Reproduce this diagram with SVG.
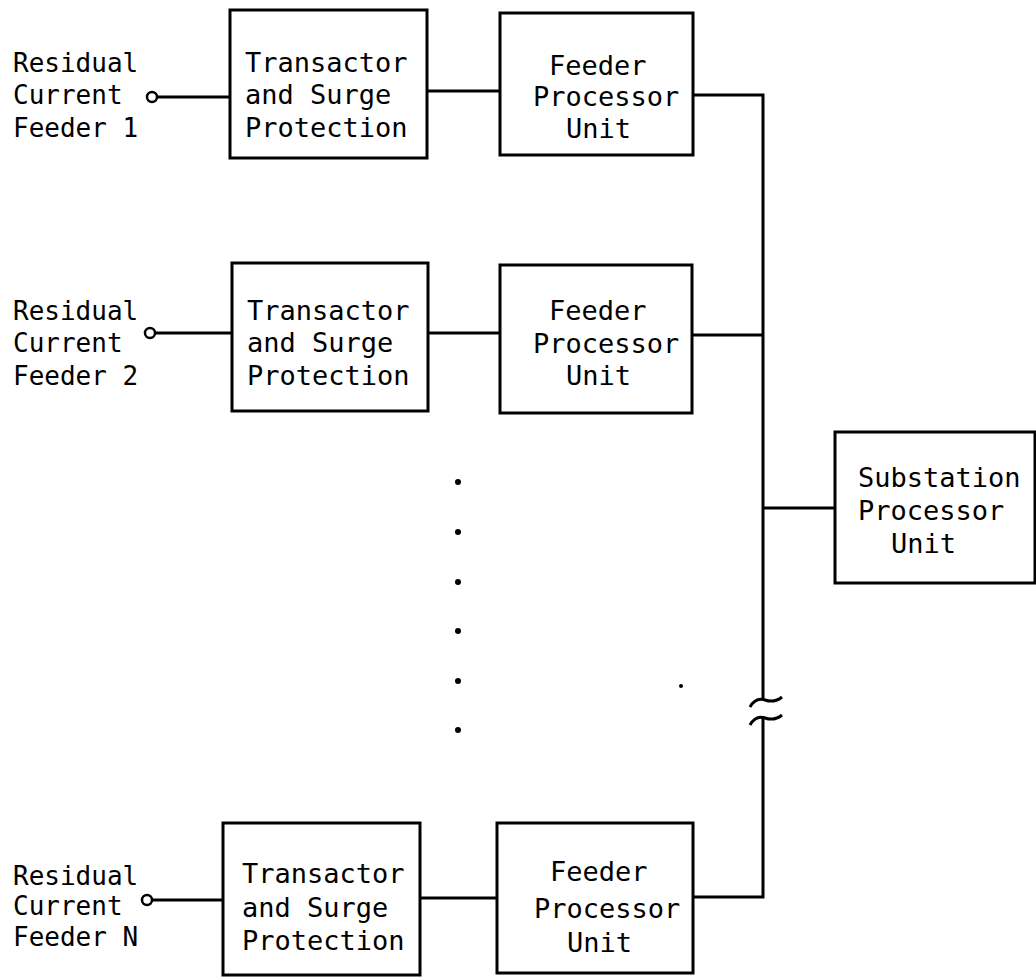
<svg xmlns="http://www.w3.org/2000/svg" width="1036" height="978" viewBox="0 0 1036 978">
<style>
.box{fill:#fff;stroke:#000;stroke-width:3}
.ln{fill:none;stroke:#000;stroke-width:3}
.term{fill:#fff;stroke:#000;stroke-width:2.5}
text{font-family:"DejaVu Sans Mono","Liberation Mono",monospace;font-size:27px;fill:#000}
.lbl{font-size:26px}
.dot{fill:#000}
</style>
<rect width="1036" height="978" fill="#fff"/>
<g id="connectors">
<line class="ln" x1="157" y1="97" x2="230" y2="97"/>
<line class="ln" x1="427" y1="91" x2="500" y2="91"/>
<polyline class="ln" points="693,95 763,95 763,700"/>
<line class="ln" x1="155" y1="333" x2="232" y2="333"/>
<line class="ln" x1="428" y1="333" x2="500" y2="333"/>
<line class="ln" x1="692" y1="335" x2="763" y2="335"/>
<line class="ln" x1="763" y1="508" x2="835" y2="508"/>
<polyline class="ln" points="763,718 763,897 693,897"/>
<line class="ln" x1="152" y1="900" x2="223" y2="900"/>
<line class="ln" x1="420" y1="898" x2="497" y2="898"/>
<path class="ln" d="M750,707 C754,700 759,698 765,700 C771,702 776,702 782,697"/>
<path class="ln" d="M750,725 C754,718 759,716 765,718 C771,720 776,720 782,715"/>
</g>
<g id="input1">
<text class="lbl" x="13" y="72">Residual</text>
<text class="lbl" x="13" y="104">Current</text>
<text class="lbl" x="13" y="137">Feeder 1</text>
<circle class="term" cx="152" cy="97" r="5"/>
</g>
<g id="transactor1">
<rect class="box" x="230" y="10" width="197" height="148"/>
<text x="245" y="72">Transactor</text>
<text x="245" y="104">and Surge</text>
<text x="245" y="137">Protection</text>
</g>
<g id="fpu1">
<rect class="box" x="500" y="13" width="193" height="142"/>
<text x="549" y="75">Feeder</text>
<text x="533" y="106">Processor</text>
<text x="566" y="138">Unit</text>
</g>
<g id="input2">
<text class="lbl" x="13" y="320">Residual</text>
<text class="lbl" x="13" y="352">Current</text>
<text class="lbl" x="13" y="385">Feeder 2</text>
<circle class="term" cx="150" cy="333" r="5"/>
</g>
<g id="transactor2">
<rect class="box" x="232" y="263" width="196" height="148"/>
<text x="247" y="320">Transactor</text>
<text x="247" y="352">and Surge</text>
<text x="247" y="385">Protection</text>
</g>
<g id="fpu2">
<rect class="box" x="500" y="265" width="192" height="148"/>
<text x="549" y="320">Feeder</text>
<text x="533" y="353">Processor</text>
<text x="566" y="385">Unit</text>
</g>
<g id="ellipsis">
<circle class="dot" cx="458" cy="482" r="3"/>
<circle class="dot" cx="458" cy="532" r="3"/>
<circle class="dot" cx="458" cy="582" r="3"/>
<circle class="dot" cx="458" cy="631" r="3"/>
<circle class="dot" cx="458" cy="681" r="3"/>
<circle class="dot" cx="458" cy="730" r="3"/>
<circle class="dot" cx="681" cy="686" r="2"/>
</g>
<g id="substation">
<rect class="box" x="835" y="432" width="200" height="151"/>
<text x="858" y="487">Substation</text>
<text x="858" y="520">Processor</text>
<text x="891" y="553">Unit</text>
</g>
<g id="inputN">
<text class="lbl" x="13" y="885">Residual</text>
<text class="lbl" x="13" y="915">Current</text>
<text class="lbl" x="13" y="946">Feeder N</text>
<circle class="term" cx="147" cy="900" r="5"/>
</g>
<g id="transactorN">
<rect class="box" x="223" y="823" width="197" height="152"/>
<text x="242" y="883">Transactor</text>
<text x="242" y="917">and Surge</text>
<text x="242" y="950">Protection</text>
</g>
<g id="fpuN">
<rect class="box" x="497" y="823" width="196" height="150"/>
<text x="550" y="881">Feeder</text>
<text x="534" y="918">Processor</text>
<text x="567" y="952">Unit</text>
</g>
</svg>
